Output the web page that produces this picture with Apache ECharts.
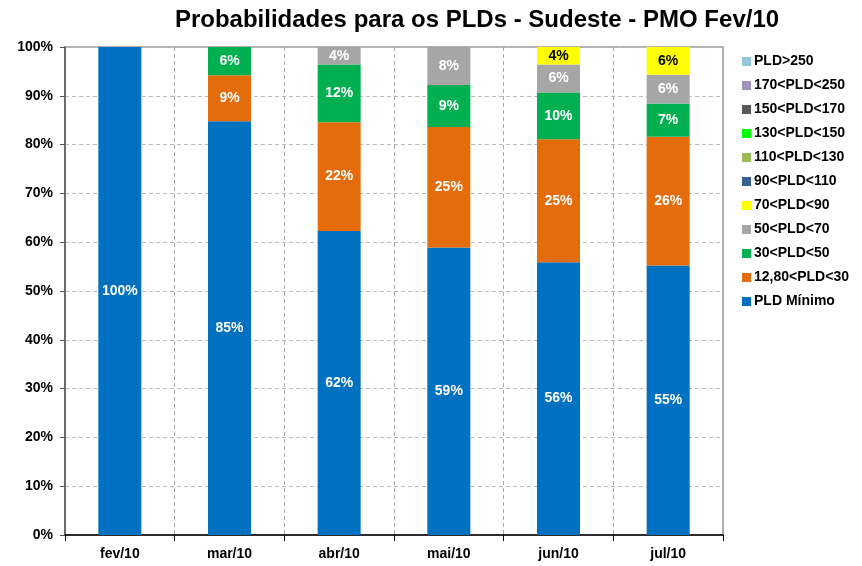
<!DOCTYPE html>
<html><head><meta charset="utf-8">
<script src="https://cdn.jsdelivr.net/npm/echarts@6/dist/echarts.min.js"></script>
<style>html,body{margin:0;padding:0;background:#fff}#c{width:862px;height:566px}</style>
</head><body><div id="c"></div>
<script>
const categories = ['fev/10','mar/10','abr/10','mai/10','jun/10','jul/10'];
const seriesNames = ['PLD Mínimo','12,80<PLD<30','30<PLD<50','50<PLD<70','70<PLD<90','90<PLD<110','110<PLD<130','130<PLD<150','150<PLD<170','170<PLD<250','PLD>250'];
const pldMinimo = [100, 84.8, 62.3, 58.9, 55.9, 55.2];
const pld12_30 = [null, 9.4, 22.3, 24.7, 25.2, 26.4];
const pld30_50 = [null, 5.8, 11.8, 8.6, 9.6, 6.8];
const pld50_70 = [null, null, 3.6, 7.8, 5.7, 5.9];
const pld70_90 = [null, null, null, null, 3.6, 5.7];
const pld90_110 = [null, null, null, null, null, null];
const pld110_130 = [null, null, null, null, null, null];
const pld130_150 = [null, null, null, null, null, null];
const pld150_170 = [null, null, null, null, null, null];
const pld170_250 = [null, null, null, null, null, null];
const pld250 = [null, null, null, null, null, null];
const yTicks = [0,10,20,30,40,50,60,70,80,90,100];

const dataList = [pldMinimo, pld12_30, pld30_50, pld50_70, pld70_90, pld90_110, pld110_130, pld130_150, pld150_170, pld170_250, pld250];
const colors = ['#0070C0','#E46C0A','#00B050','#A6A6A6','#FFFF00','#376092','#9BBB59','#00FF00','#595959','#A092C0','#93C6D6'];
const font = 'Liberation Sans, Arial, sans-serif';

const series = seriesNames.map((n,i)=>({
  name:n, type:'bar', stack:'t', data:dataList[i], barWidth:43,
  itemStyle:{color:colors[i]},
  label:{show:true, position:'inside', fontFamily:font, fontWeight:'bold', fontSize:14,
    color: i===4 ? '#000' : '#fff',
    formatter:p=> (p.value==null||p.value===0)?'':Math.round(p.value)+'%'}
}));

const chart = echarts.init(document.getElementById('c'));
chart.setOption({
  animation:false,
  color:colors,
  title:{text:'Probabilidades para os PLDs - Sudeste - PMO Fev/10', left:472, textAlign:'center', top:3,
    textStyle:{fontFamily:font, fontWeight:'bold', fontSize:24, color:'#000'}},
  grid:{left:65, right:139, top:47, bottom:31, show:true, borderColor:'#999', borderWidth:1.5},
  legend:{orient:'vertical', left:737, top:49, itemWidth:9, itemHeight:9, itemGap:9, icon:'rect',
    data:seriesNames.slice().reverse(),
    textStyle:{fontFamily:font, fontWeight:'bold', fontSize:14, color:'#000', lineHeight:15, padding:[0,0,0,-2]}},
  xAxis:{type:'category', data:categories,
    axisLine:{lineStyle:{color:'#000', width:1.5}},
    axisTick:{show:true, length:6, lineStyle:{color:'#000'}},
    axisLabel:{fontFamily:font, fontWeight:'bold', fontSize:14, color:'#000', margin:12},
    splitLine:{show:true, lineStyle:{color:'#aaa', type:[4,3]}}},
  yAxis:{type:'value', min:0, max:100, interval:10,
    axisLine:{show:true, lineStyle:{color:'#555', width:1.5}},
    axisTick:{show:true, length:5, lineStyle:{color:'#555'}},
    axisLabel:{fontFamily:font, fontWeight:'bold', fontSize:14, color:'#000', margin:12, formatter:v=>v+'%'},
    splitLine:{lineStyle:{color:'#bbb', type:[4,3]}}},
  series
});
</script></body></html>
